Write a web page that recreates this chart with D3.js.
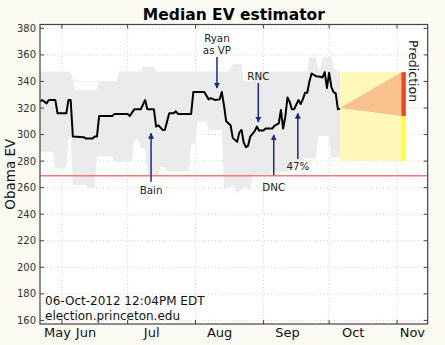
<!DOCTYPE html>
<html><head><meta charset="utf-8">
<script src="https://cdn.jsdelivr.net/npm/d3@7"></script>
<style>
body{margin:0;background:#fbfbf4;}
svg{display:block;font-family:"DejaVu Sans",sans-serif;}
</style>
</head><body><svg id="c" width="445" height="345"></svg>
<script>
// ---------------- data ----------------
const medianDates = ["2012-05-22","2012-05-23","2012-05-25","2012-05-26","2012-05-29","2012-05-30","2012-06-03","2012-06-04","2012-06-05","2012-06-06",
"2012-06-11","2012-06-12","2012-06-15","2012-06-16","2012-06-17","2012-06-18","2012-06-24","2012-06-25","2012-07-01","2012-07-02",
"2012-07-04","2012-07-07","2012-07-09","2012-07-10","2012-07-13","2012-07-14","2012-07-15","2012-07-17","2012-07-18","2012-07-20",
"2012-07-22","2012-07-23","2012-07-24","2012-07-30","2012-07-31","2012-08-05","2012-08-07","2012-08-08","2012-08-10","2012-08-12",
"2012-08-13","2012-08-14","2012-08-15","2012-08-17","2012-08-18","2012-08-19","2012-08-20","2012-08-21","2012-08-22","2012-08-23",
"2012-08-24","2012-08-25","2012-08-26","2012-08-28","2012-08-29","2012-08-30","2012-09-01","2012-09-02","2012-09-05","2012-09-06",
"2012-09-08","2012-09-09","2012-09-10","2012-09-11","2012-09-12","2012-09-13","2012-09-14","2012-09-15","2012-09-17","2012-09-18",
"2012-09-19","2012-09-20","2012-09-21","2012-09-22","2012-09-23","2012-09-25","2012-09-27","2012-09-28","2012-09-29","2012-09-30",
"2012-10-01","2012-10-02","2012-10-03","2012-10-04","2012-10-05","2012-10-06"];
const medianEV = [325,326,323.5,326,326,316,316,326,326,298.5,
298,297,297,298.5,298.5,314,314,315.5,315.5,314,
319,319,326,319,319,306,307,303.5,303.5,316,
316,317.5,315.5,315.5,332,332,326.5,327.5,326,326.5,
332,322,310,307,297.5,296,294.5,301.5,303.5,294,
290.5,291.5,298.5,302.5,306,303,303,304.5,304.5,306.5,
308.5,318.5,304.5,313.5,328,324.5,319,319,326,323,
326.5,331.5,331.5,340,346,344,343.5,343,347,335,
346.5,336,332,331,319,319.5];

const upperDates = ["2012-05-22","2012-06-05","2012-06-07","2012-06-17","2012-06-18","2012-06-26","2012-06-27","2012-07-07","2012-07-08","2012-07-13",
"2012-07-14","2012-08-16","2012-08-18","2012-08-22","2012-08-23","2012-08-27","2012-08-28","2012-09-21","2012-09-22","2012-09-25",
"2012-09-26","2012-09-27","2012-09-28","2012-10-02","2012-10-03","2012-10-06"];
const upperEV = [347.5,347.5,333.5,333.5,340,340,347.5,347.5,351,351,
347.5,347.5,353,353,340,340,347.5,347.5,358,358,
349,349,358,358,350,347.5];

const lowerDates = ["2012-05-22","2012-05-28","2012-05-29","2012-06-03","2012-06-04","2012-06-05","2012-06-06","2012-06-12","2012-06-13","2012-06-16",
"2012-06-17","2012-06-24","2012-06-25","2012-07-03","2012-07-04","2012-07-06","2012-07-07","2012-07-09","2012-07-10","2012-07-15",
"2012-07-16","2012-07-18","2012-07-19","2012-07-29","2012-07-30","2012-08-01","2012-08-02","2012-08-06","2012-08-07","2012-08-13",
"2012-08-14","2012-08-18","2012-08-20","2012-08-23","2012-08-26","2012-08-27","2012-09-04","2012-09-05","2012-09-12","2012-09-13",
"2012-09-18","2012-09-19","2012-09-25","2012-09-26","2012-10-01","2012-10-02","2012-10-06"];
const lowerEV = [287,287,274.5,274.5,297,297,262,262,259.7,259.7,
283.5,283.5,279.6,279.6,296,296,289.6,289.6,268.7,268.7,
275.8,275.8,272,272,293,293,309.7,309.7,303.4,303.4,
258,262,256,260,258,270,270,272,272,279.6,
279.6,282,282,299,299,283,283];

const yTicks = [160,180,200,220,240,260,280,300,320,340,360,380];
const monthTickDates = ["2012-06-01","2012-07-01","2012-08-01","2012-09-01","2012-10-01","2012-11-01"];
const monthLabels = ["May","Jun","Jul","Aug","Sep","Oct","Nov"];
const monthLabelDates = ["2012-05-30","2012-06-12","2012-07-12","2012-08-12","2012-09-12","2012-10-12","2012-11-08"];

const thresholdEV = 269;
const predStart = "2012-10-06", predTip = "2012-11-03", predEnd = "2012-11-05";
const predStartEV = 320, predHighEV = 347, predLowEV = 314, predFloorEV = 280;

const eventLabels = [["Ryan","as VP"],["RNC"],["DNC"],["47%"],["Bain"]];
const eventDates = ["2012-08-10T19:00","2012-08-29T16:00","2012-09-05T17:00","2012-09-16T17:00","2012-07-11T17:00"];
const eventTailEV = [358.5,338.8,269.5,281.6,264.5];
const eventTipEV = [335,309.5,299.7,316,301];
const eventTextEV = [[372.7,364.0],[344.1],[260.7],[276.3],[258.3]];

const stampLines = ["06-Oct-2012 12:04PM EDT","election.princeton.edu"];

// ---------------- chart ----------------
const P = d3.isoParse;
const svg = d3.select("#c");
const L = 40, R = 427.7, T = 24.5, B = 324;
const x = d3.scaleUtc().domain([P("2012-05-22"), P("2012-11-15")]).range([L, R]);
const y = d3.scaleLinear().domain([157.3, 382.9]).range([B, T]);

svg.append("rect").attr("width",445).attr("height",345).attr("fill","#fbfbf4");
svg.append("rect").attr("x",L).attr("y",T).attr("width",R-L).attr("height",B-T).attr("fill","#ffffff");

const defs = svg.append("defs");
defs.append("clipPath").attr("id","clip").append("rect").attr("x",L).attr("y",T).attr("width",R-L).attr("height",B-T);
defs.append("marker").attr("id","ah").attr("viewBox","0 0 10 10").attr("refX",9).attr("refY",5)
  .attr("markerUnits","userSpaceOnUse").attr("markerWidth",6).attr("markerHeight",6).attr("orient","auto")
  .append("path").attr("d","M0,0L10,5L0,10z").attr("fill","#1a2a8c");

const g = svg.append("g").attr("clip-path","url(#clip)");

// grid
g.selectAll(".hg").data(yTicks).enter().append("line")
  .attr("x1",L).attr("x2",R).attr("y1",d=>y(d)).attr("y2",d=>y(d))
  .attr("stroke","#c8c8c8").attr("stroke-width",0.8).attr("stroke-dasharray","1,2.5");
g.selectAll(".vg").data(monthTickDates).enter().append("line")
  .attr("y1",T).attr("y2",B).attr("x1",d=>x(P(d))).attr("x2",d=>x(P(d)))
  .attr("stroke","#c8c8c8").attr("stroke-width",0.8).attr("stroke-dasharray","1,2.5");

// band
const bandPts = upperDates.map((d,i)=>[x(P(d)), y(upperEV[i])])
  .concat(lowerDates.map((d,i)=>[x(P(d)), y(lowerEV[i])]).reverse());
g.append("path").attr("d", d3.line()(bandPts)+"Z").attr("fill","#ebebeb");

// threshold line
g.append("line").attr("x1",L).attr("x2",R).attr("y1",y(thresholdEV)).attr("y2",y(thresholdEV))
  .attr("stroke","#f07a7a").attr("stroke-width",1.6);

// prediction
g.append("rect").attr("x",x(P(predStart))).attr("y",y(predHighEV))
  .attr("width",x(P(predEnd))-x(P(predStart))).attr("height",y(predFloorEV)-y(predHighEV)).attr("fill","#fff8b9");
g.append("path").attr("d", d3.line()([[x(P(predStart)),y(predStartEV)],[x(P(predTip)),y(predHighEV)],[x(P(predTip)),y(predLowEV)]])+"Z")
  .attr("fill","#f8c28e");
g.append("rect").attr("x",x(P(predTip))).attr("y",y(predLowEV))
  .attr("width",x(P(predEnd))-x(P(predTip))).attr("height",y(predFloorEV)-y(predLowEV)).attr("fill","#ffff44");
g.append("rect").attr("x",x(P(predTip))).attr("y",y(predHighEV))
  .attr("width",x(P(predEnd))-x(P(predTip))).attr("height",y(predLowEV)-y(predHighEV)).attr("fill","#ee4422");

// median line
g.append("path").attr("d", d3.line().x((d,i)=>x(P(d))).y((d,i)=>y(medianEV[i]))(medianDates))
  .attr("fill","none").attr("stroke","#000").attr("stroke-width",2).attr("stroke-linejoin","round");

// events
eventLabels.forEach((lab,i)=>{
  const ex = x(P(eventDates[i]));
  svg.append("line").attr("x1",ex).attr("x2",ex).attr("y1",y(eventTailEV[i])).attr("y2",y(eventTipEV[i]))
    .attr("stroke","#1a2a8c").attr("stroke-width",1.5).attr("marker-end","url(#ah)");
  lab.forEach((t,j)=>{
    svg.append("text").attr("x",ex).attr("y",y(eventTextEV[i][j])).attr("text-anchor","middle")
      .attr("dominant-baseline","central").attr("font-size",10.3).attr("fill","#222").text(t);
  });
});

// stamp
stampLines.forEach((t,i)=>{
  svg.append("text").attr("x",45).attr("y",305+i*15).attr("font-size",12).attr("fill","#111").text(t);
});

// prediction label
svg.append("text").attr("transform","translate(409,40) rotate(90)").attr("font-size",12.5).attr("fill","#111").text("Prediction");

// spines
svg.append("rect").attr("x",L).attr("y",T).attr("width",R-L).attr("height",B-T)
  .attr("fill","none").attr("stroke","#444").attr("stroke-width",1.2);

// ticks
yTicks.forEach(v=>{
  svg.append("line").attr("x1",L).attr("x2",L+4).attr("y1",y(v)).attr("y2",y(v)).attr("stroke","#444");
  svg.append("line").attr("x1",R-4).attr("x2",R).attr("y1",y(v)).attr("y2",y(v)).attr("stroke","#444");
  svg.append("text").attr("x",L-4).attr("y",y(v)).attr("text-anchor","end").attr("dominant-baseline","central")
    .attr("font-size",10).attr("fill","#333").text(v);
});
monthTickDates.forEach(d=>{
  const xx = x(P(d));
  svg.append("line").attr("x1",xx).attr("x2",xx).attr("y1",B).attr("y2",B-4).attr("stroke","#444");
  svg.append("line").attr("x1",xx).attr("x2",xx).attr("y1",T).attr("y2",T+4).attr("stroke","#444");
});
monthLabels.forEach((m,i)=>{
  svg.append("text").attr("x",x(P(monthLabelDates[i]))).attr("y",337).attr("text-anchor","middle")
    .attr("font-size",13).attr("fill","#111").text(m);
});

// titles
svg.append("text").attr("x",(L+R)/2).attr("y",20).attr("text-anchor","middle")
  .attr("font-size",15.5).attr("font-weight","bold").attr("fill","#000").text("Median EV estimator");
svg.append("text").attr("transform",`translate(15,${(T+B)/2}) rotate(-90)`).attr("text-anchor","middle")
  .attr("font-size",13.5).attr("fill","#111").text("Obama EV");
</script>
</body></html>
